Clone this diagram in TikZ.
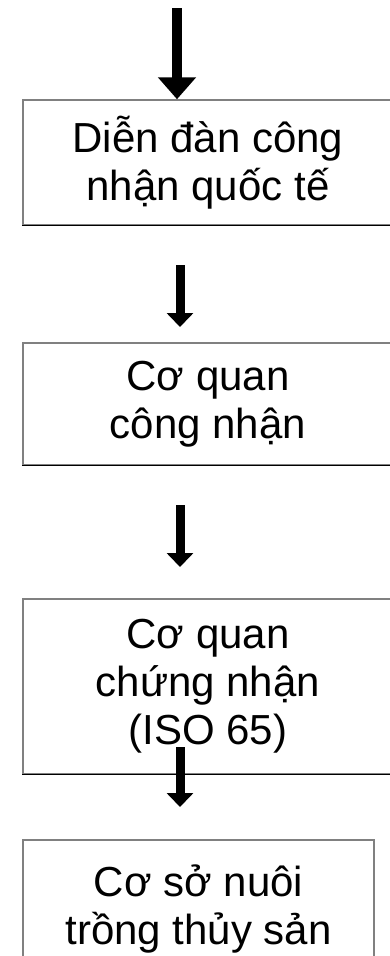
\documentclass[tikz,border=0pt]{standalone}
\usepackage{fontspec}
\setmainfont{Liberation Sans}
\usetikzlibrary{arrows.meta}

\begin{document}
\begin{tikzpicture}[x=1pt,y=-1pt,
  khung/.style={draw=black!50,line width=1.5pt,inner sep=0pt,align=center,font=\fontsize{42}{48}\selectfont},
  muiten/.style={line width=9pt,-{Triangle[width=26pt,length=14pt]}}]
\useasboundingbox (0,0) rectangle (389,956);
\node[khung,minimum width=370pt,minimum height=125pt] (dd) at (208,162.5) {Diễn đàn công\\nhận quốc tế};
\node[khung,minimum width=370pt,minimum height=122pt] (cq) at (208,404) {Cơ quan\\công nhận};
\node[khung,minimum width=370pt,minimum height=175pt] (cn) at (208,686.5) {Cơ quan\\chứng nhận\\(ISO 65)};
\node[khung,minimum width=351pt,minimum height=138pt] (cs) at (198.5,909) {Cơ sở nuôi\\trồng thủy sản};
\foreach \b in {dd,cq,cn,cs}
  \draw[line width=1pt] (\b.south west) -- (\b.south east);
\path (177,8) coordinate (a1) (180,265) coordinate (a2) (180,327) coordinate (b2)
  (180,505) coordinate (a3) (180,567) coordinate (b3) (180,747) coordinate (a4) (180,807) coordinate (b4);
\draw[muiten,line width=10pt,-{Triangle[width=37pt,length=22pt]}] (a1) -- (a1 |- dd.north);
\draw[muiten] (a2) -- (b2);
\draw[muiten] (a3) -- (b3);
\draw[muiten] (a4) -- (b4);
\end{tikzpicture}
\end{document}
